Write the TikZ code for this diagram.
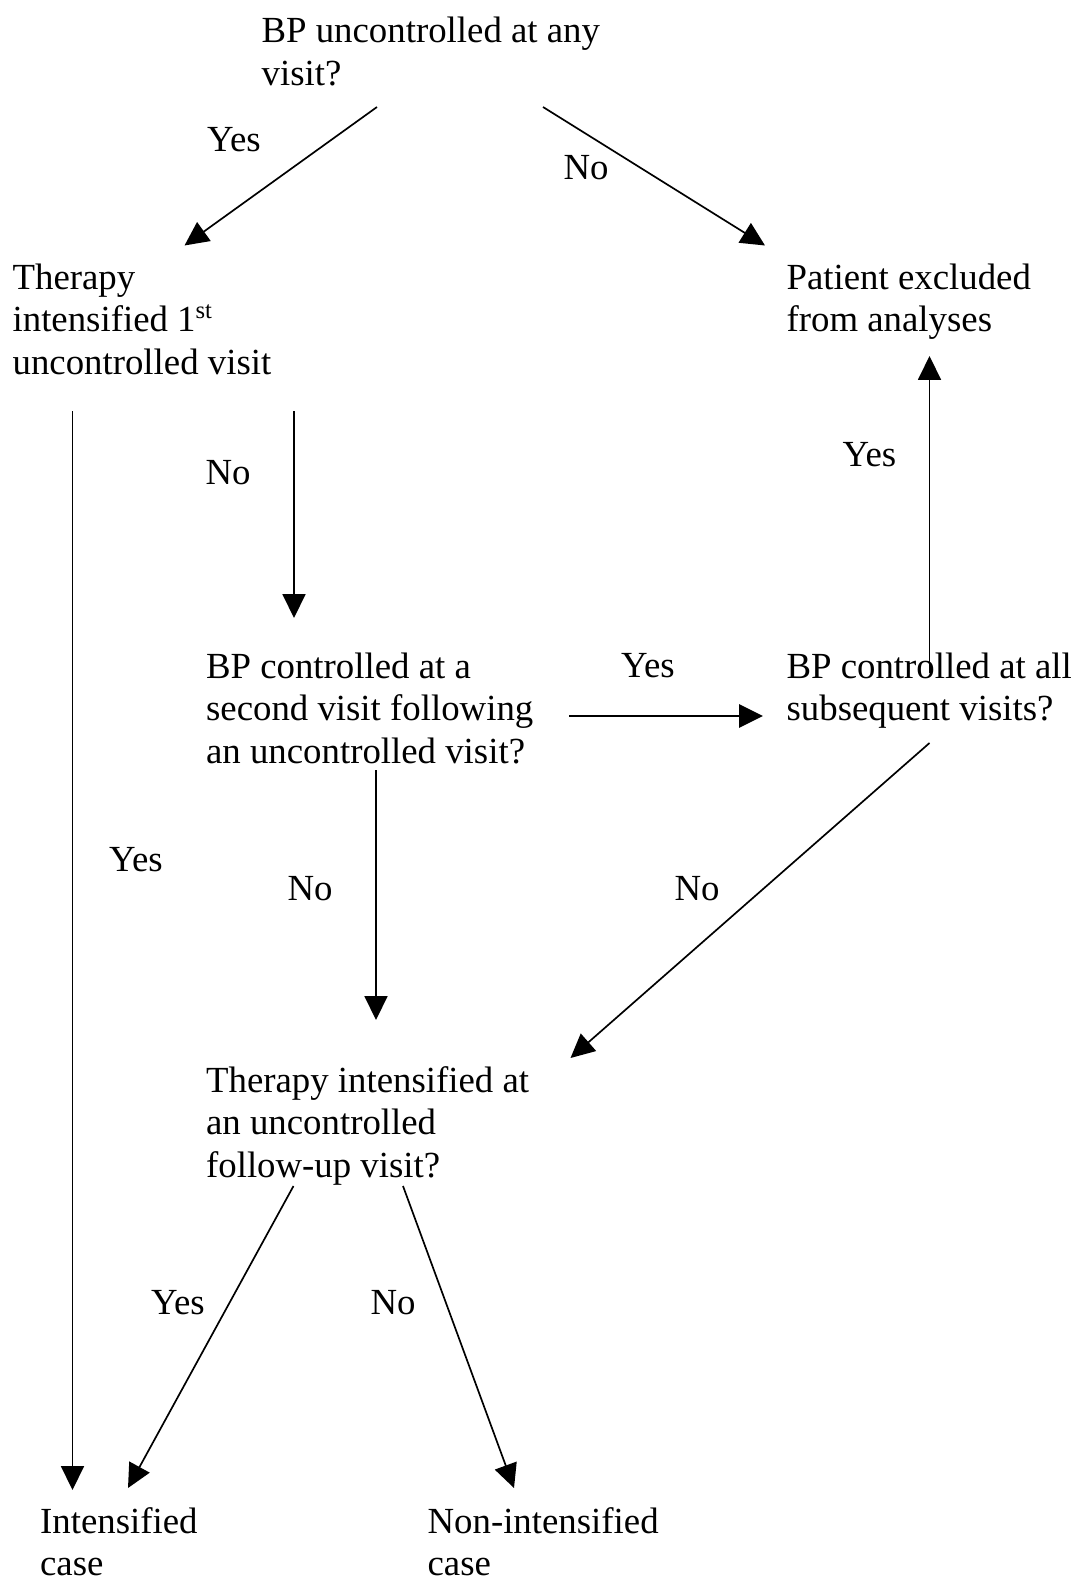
\documentclass[tikz,border=0pt]{standalone}
\usepackage{fontspec}
\setmainfont{Liberation Serif}
\usetikzlibrary{arrows.meta}
\tikzset{
  txt/.style={anchor=north west, inner sep=0pt, align=left, font=\fontsize{12}{13.86}\selectfont},
  lbl/.style={anchor=base, inner sep=0pt, font=\fontsize{12}{13.86}\selectfont},
  arr/.style={-{Triangle[length=7.8pt,width=7.5pt]}, line width=0.55pt},
  harr/.style={-{Triangle[length=7.8pt,width=7.5pt]}, line width=0.9pt}
}
\begin{document}
\begin{tikzpicture}[x=0.326pt,y=-0.326pt]
\useasboundingbox (0,0) rectangle (1075,1580);
% questions and outcomes
\node[txt] (anyvisit) at (261,12.5) {\strut BP uncontrolled at any\\visit?};
\node[txt] (firstvisit) at (12,259) {\strut Therapy\\intensified 1\textsuperscript{st}\\uncontrolled visit};
\node[txt] (excluded) at (786,259) {\strut Patient excluded\\from analyses};
\node[txt] (secondvisit) at (205.5,648) {\strut BP controlled at a\\second visit following\\an uncontrolled visit?};
\node[txt] (allvisits) at (786,648) {\strut BP controlled at all\\subsequent visits?};
\node[txt] (followup) at (205.5,1062) {\strut Therapy intensified at\\an uncontrolled\\follow-up visit?};
\node[txt] (intcase) at (39.5,1503) {\strut Intensified\\case};
\node[txt] (nonintcase) at (427,1503) {\strut Non-intensified\\case};
% arrow ends
\coordinate (a1) at (377,107);
\coordinate (a2) at (184.5,245.5);
\coordinate (b1) at (543,107);
\coordinate (b2) at (765,245.5);
\coordinate (c1) at (72.5,411);
\coordinate (c2) at (72.5,1490);
\coordinate (d1) at (294,411);
\coordinate (d2) at (294,618);
\coordinate (e1) at (929.5,673);
\coordinate (e2) at (929.5,356);
\coordinate (f1) at (569,716);
\coordinate (f2) at (763,716);
\coordinate (g1) at (376,770);
\coordinate (g2) at (376,1020);
\coordinate (h1) at (929.5,743);
\coordinate (h2) at (570.5,1058);
\coordinate (i1) at (293.5,1186);
\coordinate (i2) at (128,1488);
\coordinate (j1) at (403,1186);
\coordinate (j2) at (514,1488);
\draw[arr] (a1) -- (a2);
\draw[arr] (b1) -- (b2);
\draw[arr] (c1) -- (c2);
\draw[arr] (d1) -- (d2);
\draw[arr] (e1) -- (e2);
\draw[harr] (f1) -- (f2);
\draw[arr] (g1) -- (g2);
\draw[arr] (h1) -- (h2);
\draw[arr] (i1) -- (i2);
\draw[arr] (j1) -- (j2);
% branch labels
\node[lbl] (yes1) at (234,152) {Yes};
\node[lbl] (no1) at (586,180) {No};
\node[lbl] (no2) at (228,484.5) {No};
\node[lbl] (yes2) at (869.5,466) {Yes};
\node[lbl] (yes3) at (648,677) {Yes};
\node[lbl] (yes4) at (136,871) {Yes};
\node[lbl] (no3) at (310,900) {No};
\node[lbl] (no4) at (697,900) {No};
\node[lbl] (yes5) at (178,1314) {Yes};
\node[lbl] (no5) at (393,1314) {No};
\end{tikzpicture}
\end{document}
